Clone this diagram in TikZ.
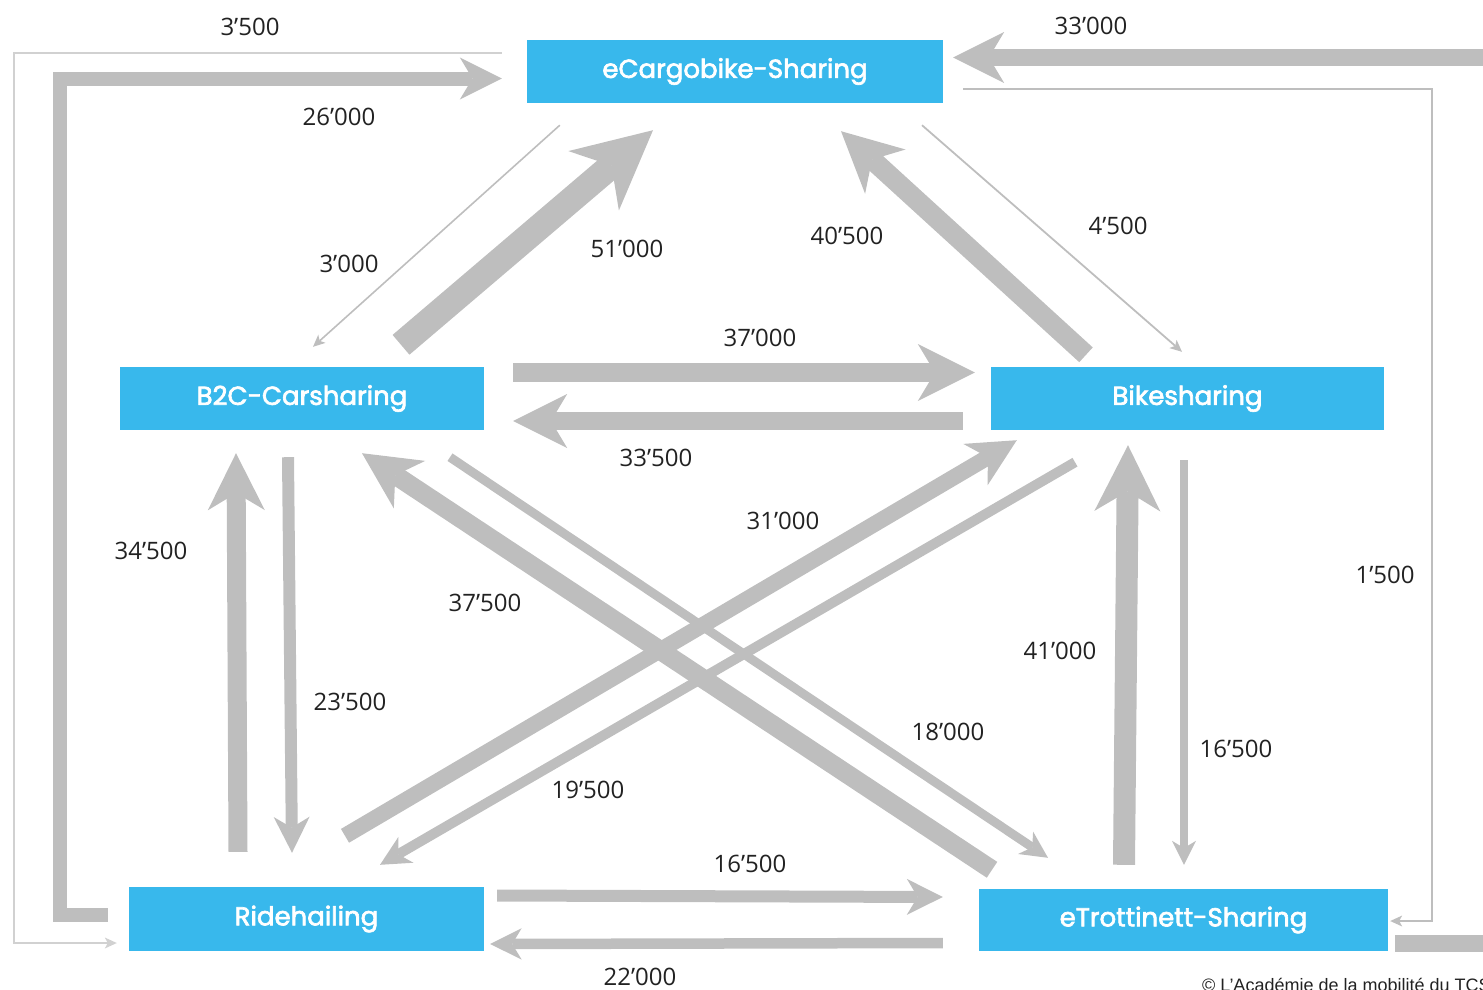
\documentclass[tikz,border=0pt]{standalone}
\usepackage{fontspec}
\setmainfont{Open Sans}
\newfontfamily\boxfont{Poppins}[FakeBold=2.5]
\newfontfamily\copyfont{Liberation Sans}
\usetikzlibrary{arrows.meta,calc}
\definecolor{flowgray}{HTML}{BEBEBE}
\definecolor{boxblue}{HTML}{38B8EC}
\definecolor{lbltext}{HTML}{222222}
\tikzset{
  box/.style={fill=boxblue, text=white, inner sep=0pt, minimum height=63pt,
    font=\boxfont\fontsize{26}{30}\selectfont},
  lbl/.style={font=\fontsize{24}{28}\selectfont, text=lbltext, inner sep=0pt},
  flow/.style={draw=flowgray, line width=#1, line join=miter,
    -{Stealth[length=0pt 3, width=0pt 3, inset=0pt 0.9, line width=0pt]}},
  thinflow/.style={draw=flowgray, line width=#1, line join=miter,
    -{Stealth[length=12pt, width=11pt, inset=3pt, line width=0pt]}},
}
\begin{document}
\begin{tikzpicture}[x=1pt, y=-1pt]
\useasboundingbox (0,0) rectangle (1483,989);
\clip (0,0) rectangle (1483,989);

% boxes
\node[box, minimum width=416pt] (cargo) at (735,71.5) {eCargobike-Sharing};
\node[box, minimum width=364pt] (car) at (302,398.5) {B2C-Carsharing};
\node[box, minimum width=393pt] (bike) at (1187.5,398.5) {Bikesharing};
\node[box, minimum width=355pt, minimum height=64pt] (ride) at (306.5,919) {Ridehailing};
\node[box, minimum width=409pt, minimum height=62pt] (trott) at (1183.5,920) {eTrottinett-Sharing};

% outer connectors
\draw[thinflow=1.8, draw=flowgray!70] ($(cargo.west)+(-25,-18.5)$) -- ++(-488,0) |- ($(ride.west)+(-12,24)$);
\draw[flow=14] ($(ride.west)+(-21,-4)$) -- ++(-48,0) |- ($(cargo.west)+(-25,7)$);
\draw[flow=17] ($(trott.east)+(7,23.5)$) -- ++(110,0) |- ($(cargo.east)+(10,-14)$);
\draw[thinflow=1.8] ($(cargo.east)+(20,17.5)$) -- ++(469,0) |- ($(trott.east)+(2,1)$);

% cargo <-> car / bike
\draw[thinflow=1.6] ($(cargo.south west)+(33,22)$) -- ($(car.north)+(11,-20)$);
\draw[flow=26] ($(car.north)+(99,-22)$) -- ($(cargo.south)+(-82,27)$);
\draw[flow=20] ($(bike.north)+(-101.5,-12)$) -- ($(cargo.south)+(106,28)$);
\draw[thinflow=1.8] ($(cargo.south)+(187,22)$) -- ($(bike.north)+(-5.5,-15)$);

% car <-> bike
\draw[flow=19] ($(car.east)+(29,-26)$) -- ($(bike.west)+(-16,-26)$);
\draw[flow=18] ($(bike.west)+(-28,22.5)$) -- ($(car.east)+(29,22.5)$);

% diagonals
\draw[flow=16] ($(ride.north)+(38.5,-51)$) -- ($(bike.south west)+(26,10)$);
\draw[flow=10] ($(bike.south)+(-112.5,32)$) -- ($(ride.north)+(73.5,-22)$);
\draw[flow=19] ($(trott.north)+(-191.5,-19)$) -- ($(car.south)+(60,23)$);
\draw[flow=9] ($(car.south)+(148,27)$) -- ($(trott.north)+(-135.5,-31)$);

% verticals
\draw[flow=19] ($(ride.north)+(-68.5,-35)$) -- ($(car.south)+(-66,23)$);
\draw[flow=12] ($(car.south)+(-14,27)$) -- ($(ride.north)+(-14.5,-34)$);
\draw[flow=22] ($(trott.north)+(-59.5,-24)$) -- ($(bike.south)+(-59.5,15)$);
\draw[flow=8] ($(bike.south)+(-3.5,30)$) -- ($(trott.north)+(0.5,-24)$);

% bottom horizontals
\draw[flow=12] ($(ride.east)+(13,-23.5)$) -- ($(trott.west)+(-36,-23)$);
\draw[flow=10.5] ($(trott.west)+(-36,23)$) -- ($(ride.east)+(6,25)$);

% labels
\node[lbl] (l1) at (250,27) {3’500};
\node[lbl] (l2) at (339,117) {26’000};
\node[lbl] (l3) at (1091,26) {33’000};
\node[lbl] (l4) at (349,264) {3’000};
\node[lbl] (l5) at (627,249) {51’000};
\node[lbl] (l6) at (847,236) {40’500};
\node[lbl] (l7) at (1118,226) {4’500};
\node[lbl] (l8) at (760,338) {37’000};
\node[lbl] (l9) at (656,458) {33’500};
\node[lbl] (l10) at (783,521) {31’000};
\node[lbl] (l11) at (151,551) {34’500};
\node[lbl] (l12) at (485,603) {37’500};
\node[lbl] (l13) at (1385,575) {1’500};
\node[lbl] (l14) at (1060,651) {41’000};
\node[lbl] (l15) at (350,702) {23’500};
\node[lbl] (l16) at (948,732) {18’000};
\node[lbl] (l17) at (1236,749) {16’500};
\node[lbl] (l18) at (588,790) {19’500};
\node[lbl] (l19) at (750,864) {16’500};
\node[lbl] (l20) at (640,977) {22’000};

\node[anchor=base west, inner sep=0pt, text=lbltext,
  font=\copyfont\fontsize{18}{21}\selectfont] (copy) at (1202,991) {© L’Académie de la mobilité du TCS};
\end{tikzpicture}
\end{document}
